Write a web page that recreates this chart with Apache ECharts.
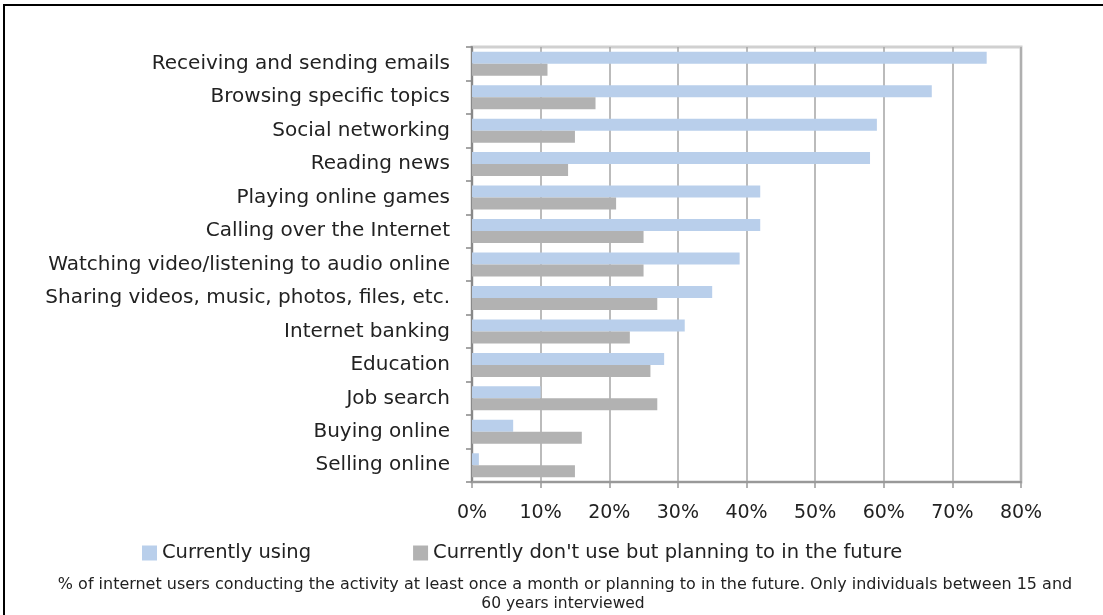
<!DOCTYPE html>
<html>
<head>
<meta charset="utf-8">
<script src="https://cdn.jsdelivr.net/npm/echarts@6/dist/echarts.min.js"></script>
<style>
  html, body { margin: 0; padding: 0; background: #fff; }
  #chart { width: 1103px; height: 615px; }
</style>
</head>
<body>
<div id="chart"></div>
<script>
// activities, top to bottom
const categories = [
  "Receiving and sending emails",
  "Browsing specific topics",
  "Social networking",
  "Reading news",
  "Playing online games",
  "Calling over the Internet",
  "Watching video/listening to audio online",
  "Sharing videos, music, photos, files, etc.",
  "Internet banking",
  "Education",
  "Job search",
  "Buying online",
  "Selling online"
];
const currentlyUsing = [75, 67, 59, 58, 42, 42, 39, 35, 31, 28, 10, 6, 1];
const planningToUse = [11, 18, 15, 14, 21, 25, 25, 27, 23, 26, 27, 16, 15];
const seriesNames = ["Currently using", "Currently don't use but planning to in the future"];
const footnote = [
  "% of internet users conducting the activity at least once a month or planning to in the future. Only individuals between 15 and",
  "60 years interviewed"
];

const font = "DejaVu Sans";

const option = {
  animation: false,
  textStyle: { fontFamily: font },
  grid: {
    left: 472,
    right: 82,
    top: 47,
    bottom: 133,
    show: true,
    borderColor: "#d0d0d0",
    borderWidth: 3
  },
  legend: {
    left: 137,
    top: 538,
    itemWidth: 15,
    itemHeight: 15,
    itemGap: 102,
    icon: "rect",
    textStyle: { fontFamily: font, fontSize: 19.5, color: "#222" },
    data: seriesNames
  },
  xAxis: {
    type: "value",
    min: 0,
    max: 80,
    interval: 10,
    axisLabel: {
      formatter: "{value}%",
      fontSize: 19,
      color: "#222",
      margin: 22
    },
    axisLine: { show: true, lineStyle: { color: "#999", width: 2 } },
    axisTick: { show: true, length: 6, lineStyle: { color: "#999", width: 1.5 } },
    splitLine: { lineStyle: { color: "#a5a5a5", width: 1.5 } }
  },
  yAxis: {
    type: "category",
    inverse: true,
    data: categories,
    axisLabel: {
      fontSize: 20,
      color: "#222",
      margin: 22
    },
    axisLine: { show: true, lineStyle: { color: "#888", width: 2 } },
    axisTick: { show: true, length: 6, lineStyle: { color: "#888", width: 1.5 } }
  },
  series: [
    {
      name: seriesNames[0],
      type: "bar",
      data: currentlyUsing,
      barWidth: 12,
      barGap: "0%",
      itemStyle: { color: "#b9cfeb" }
    },
    {
      name: seriesNames[1],
      type: "bar",
      data: planningToUse,
      barWidth: 12,
      barGap: "0%",
      itemStyle: { color: "#b2b2b2" }
    }
  ],
  graphic: [
    {
      type: "rect",
      shape: { x: 4, y: 5, width: 1120, height: 640 },
      style: { fill: null, stroke: "#000", lineWidth: 2 },
      silent: true
    },
    {
      type: "text",
      x: 565,
      y: 585,
      scaleX: 1.03,
      style: {
        text: footnote[0],
        font: "15.5px 'DejaVu Sans'",
        fill: "#222",
        align: "center",
        verticalAlign: "middle"
      }
    },
    {
      type: "text",
      x: 563,
      y: 604,
      style: {
        text: footnote[1],
        font: "15.5px 'DejaVu Sans'",
        fill: "#222",
        align: "center",
        verticalAlign: "middle"
      }
    }
  ]
};

const myChart = echarts.init(document.getElementById("chart"));
myChart.setOption(option);
</script>
</body>
</html>
